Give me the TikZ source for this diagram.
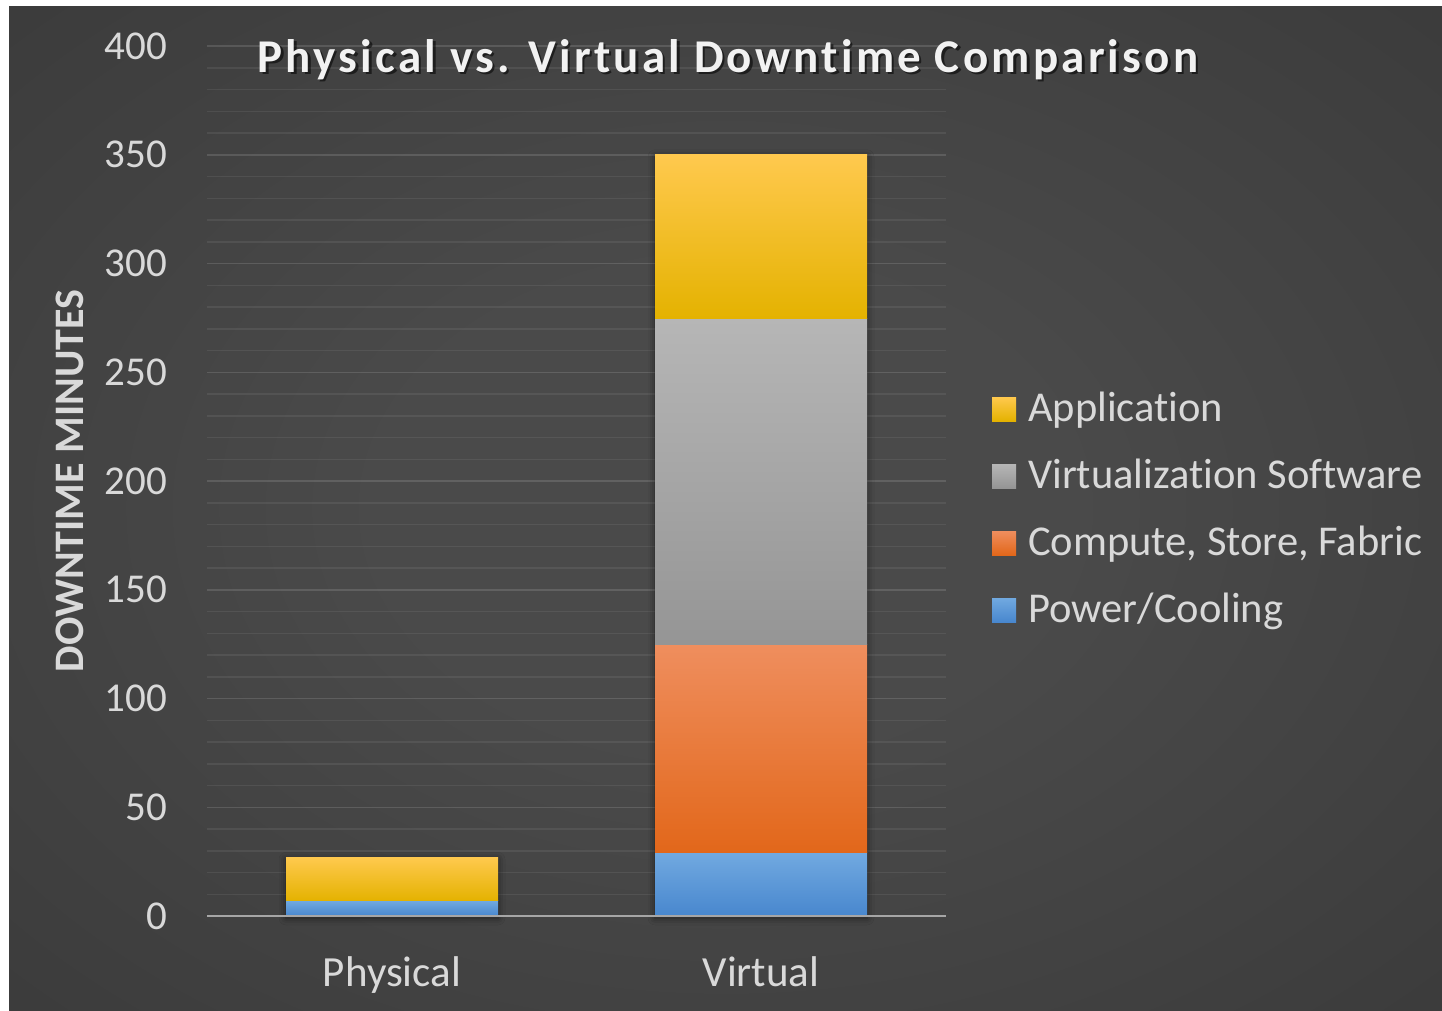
\documentclass[tikz,border=0pt]{standalone}
\usepackage{fontspec}
\setmainfont[Ligatures=NoCommon]{Carlito}
\newfontfamily\titlefont[LetterSpace=6.9, Ligatures=NoCommon]{Carlito}
\usetikzlibrary{shadows.blur}

\definecolor{txt}{HTML}{D9D9D9}
\definecolor{bgin}{HTML}{4A4A4A}
\definecolor{bgout}{HTML}{252525}
\definecolor{axisline}{HTML}{A6A6A6}
% segment colours: top / middle / bottom
\definecolor{yelT}{HTML}{FFC94E}\definecolor{yelM}{HTML}{FFC900}\definecolor{yelB}{HTML}{E4B200}
\definecolor{grayT}{HTML}{B6B6B6}\definecolor{grayM}{HTML}{A8A8A8}\definecolor{grayB}{HTML}{959595}
\definecolor{orT}{HTML}{EF8E5E}\definecolor{orM}{HTML}{F47C2C}\definecolor{orB}{HTML}{E2671A}
\definecolor{bluT}{HTML}{71A9E0}\definecolor{bluM}{HTML}{5B9BD5}\definecolor{bluB}{HTML}{4887CE}

\pgfdeclareradialshading{panelshade}{\pgfpoint{0bp}{0bp}}{%
  color(0bp)=(bgin); color(12bp)=(bgin); color(72bp)=(bgout)}

\tikzset{
  ticklabel/.style={text=txt, font=\fontsize{41}{41}\selectfont, anchor=east, inner sep=0pt},
  catlabel/.style={text=txt, font=\fontsize{43}{43}\selectfont, anchor=base, inner sep=0pt},
  legtext/.style={text=txt, font=\fontsize{42.5}{42.5}\selectfont, anchor=base west, inner sep=0pt},
  titletext/.style={font=\fontsize{47}{47}\titlefont\bfseries, anchor=base, inner sep=0pt},
  minorgrid/.style={white, opacity=0.07, line width=1.5pt},
  majorgrid/.style={white, opacity=0.13, line width=1.5pt},
  yelseg/.style={top color=yelT, middle color=yelM, bottom color=yelB},
  grayseg/.style={top color=grayT, middle color=grayM, bottom color=grayB},
  orseg/.style={top color=orT, middle color=orM, bottom color=orB},
  bluseg/.style={top color=bluT, middle color=bluM, bottom color=bluB},
  barshadow/.style={fill=black!80, blur shadow={shadow xshift=0pt, shadow yshift=-2pt,
      shadow blur radius=7pt, shadow opacity=55}},
}

\begin{document}
\begin{tikzpicture}[x=1pt, y=-1pt]
  \useasboundingbox (0,0) rectangle (1442,1010);
  \fill[white] (0,0) rectangle (1442,1010);
  \shade[shading=panelshade] (9,6) rectangle (1442,1010);

  % gridlines: minor every 10, major every 50
  \foreach \v in {10,20,...,400}{
    \pgfmathtruncatemacro{\m}{mod(\v,50)}
    \ifnum\m=0
      \draw[majorgrid] (207,{916-2.175*\v}) -- (946,{916-2.175*\v});
    \else
      \draw[minorgrid] (207,{916-2.175*\v}) -- (946,{916-2.175*\v});
    \fi
  }

  % tick labels
  \foreach \v in {0,50,...,400}{
    \node[ticklabel] (tick\v) at (167,{916-2.175*\v}) {\v};
  }

  % Physical bar
  \path[barshadow] (286,916) rectangle (498,{916-2.175*27});
  \shade[bluseg] (286,916) rectangle (498,{916-2.175*7});
  \shade[yelseg] (286,{916-2.175*7}) rectangle (498,{916-2.175*27});

  % Virtual bar
  \path[barshadow] (655,916) rectangle (867,{916-2.175*350});
  \shade[bluseg] (655,916) rectangle (867,{916-2.175*29});
  \shade[orseg] (655,{916-2.175*29}) rectangle (867,{916-2.175*125});
  \shade[grayseg] (655,{916-2.175*125}) rectangle (867,{916-2.175*274.5});
  \shade[yelseg] (655,{916-2.175*274.5}) rectangle (867,{916-2.175*350});

  % category axis
  \draw[axisline, line width=2.5pt] (207,916) -- (946,916);
  \node[catlabel] (catphys) at (392,986) {Physical};
  \node[catlabel] (catvirt) at (761,986) {Virtual};

  % value axis title
  \node[text=txt, font=\fontsize{42}{42}\selectfont\bfseries, rotate=90, anchor=base, inner sep=0pt]
    (ytitle) at (83,481) {DOWNTIME MINUTES};

  % chart title with its drop shadow
  \node[titletext, text=black, opacity=0.55] (titleshadow) at (730.5,74.5)
    {Physical vs. Virtual Downtime Comparison};
  \node[titletext, text=white!95!black] (title) at (728,72)
    {Physical vs. Virtual Downtime Comparison};

  % legend
  \shade[yelseg] (992,397) rectangle (1016,421);
  \node[legtext] (legapp) at (1028,421) {Application};
  \shade[grayseg] (992,464) rectangle (1016,488);
  \node[legtext] (legvirt) at (1028,488) {Virtualization Software};
  \shade[orseg] (992,531) rectangle (1016,555);
  \node[legtext] (legcomp) at (1028,555) {Compute, Store, Fabric};
  \shade[bluseg] (992,598) rectangle (1016,622);
  \node[legtext] (legpow) at (1028,622) {Power/Cooling};
\end{tikzpicture}
\end{document}
